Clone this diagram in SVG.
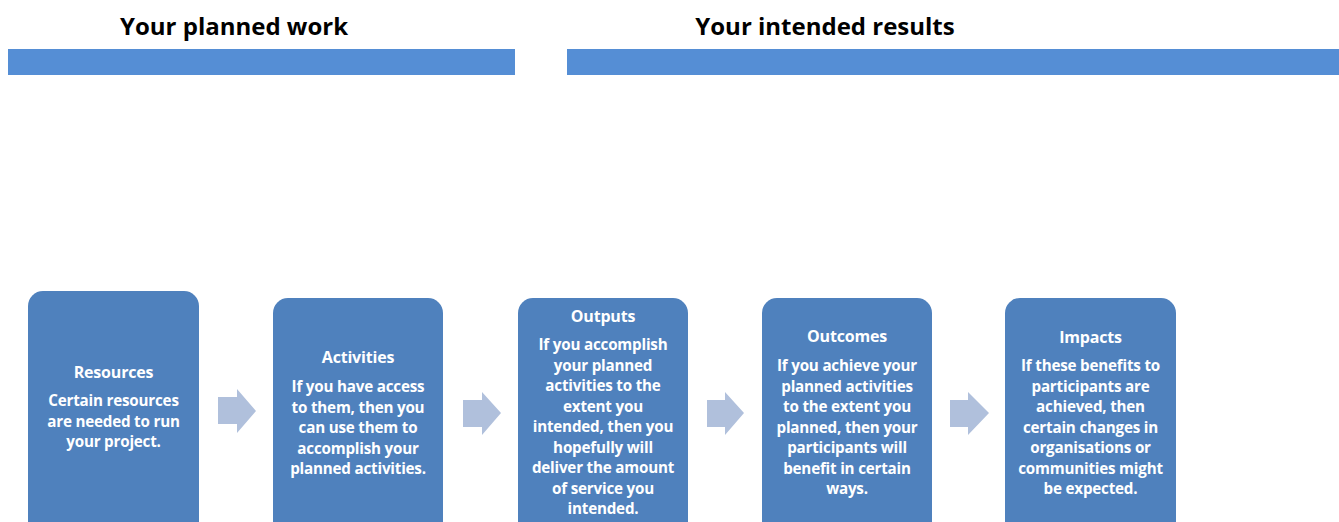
<svg xmlns="http://www.w3.org/2000/svg" width="1339" height="522" viewBox="0 0 1339 522">
<style>
.bar{fill:#558ed5}
.head{font-family:"Open Sans","Liberation Sans",sans-serif;font-weight:bold;font-size:24px;fill:#000;text-anchor:middle}
.box{fill:#4f81bd}
.t{font-family:"Open Sans","Liberation Sans",sans-serif;font-weight:bold;font-size:15.2px;fill:#fff;text-anchor:middle;letter-spacing:-0.2px}
.h{font-size:16px}
.arr{fill:#b0c0dc}
</style>
<rect width="1339" height="522" fill="#fff"/>
<g id="header-planned">
<text class="head" x="234" y="35">Your planned work</text>
<rect class="bar" x="8" y="49" width="507" height="26"/>
</g>
<g id="header-results">
<text class="head" x="825" y="35">Your intended results</text>
<rect class="bar" x="567" y="49" width="772" height="26"/>
</g>
<g id="connectors">
<polygon class="arr" points="218,397 237,397 237,389 256,411 237,433 237,424 218,424"/>
<polygon class="arr" points="463,400 482,400 482,392 501,413 482,435 482,427 463,427"/>
<polygon class="arr" points="707,400 725,400 725,392 744,413 725,435 725,427 707,427"/>
<polygon class="arr" points="950,400 968,400 968,392 989,413 968,435 968,427 950,427"/>
</g>
<g id="resources">
<rect class="box" x="28" y="291" width="171" height="250" rx="15"/>
<text class="t" x="113.5"><tspan class="h" x="113.5" y="378">Resources</tspan><tspan x="113.5" y="406">Certain resources</tspan><tspan x="113.5" y="426.5">are needed to run</tspan><tspan x="113.5" y="447">your project.</tspan></text>
</g>
<g id="activities">
<rect class="box" x="273" y="298" width="170" height="250" rx="15"/>
<text class="t" x="358"><tspan class="h" x="358" y="363">Activities</tspan><tspan x="358" y="392">If you have access</tspan><tspan x="358" y="412.5">to them, then you</tspan><tspan x="358" y="433">can use them to</tspan><tspan x="358" y="453.5">accomplish your</tspan><tspan x="358" y="474">planned activities.</tspan></text>
</g>
<g id="outputs">
<rect class="box" x="518" y="298" width="170" height="250" rx="15"/>
<text class="t" x="603"><tspan class="h" x="603" y="322">Outputs</tspan><tspan x="603" y="350">If you accomplish</tspan><tspan x="603" y="370.5">your planned</tspan><tspan x="603" y="391">activities to the</tspan><tspan x="603" y="411.5">extent you</tspan><tspan x="603" y="432">intended, then you</tspan><tspan x="603" y="452.5">hopefully will</tspan><tspan x="603" y="473">deliver the amount</tspan><tspan x="603" y="493.5">of service you</tspan><tspan x="603" y="514">intended.</tspan></text>
</g>
<g id="outcomes">
<rect class="box" x="762" y="298" width="170" height="250" rx="15"/>
<text class="t" x="847"><tspan class="h" x="847" y="342">Outcomes</tspan><tspan x="847" y="371">If you achieve your</tspan><tspan x="847" y="391.5">planned activities</tspan><tspan x="847" y="412">to the extent you</tspan><tspan x="847" y="432.5">planned, then your</tspan><tspan x="847" y="453">participants will</tspan><tspan x="847" y="473.5">benefit in certain</tspan><tspan x="847" y="494">ways.</tspan></text>
</g>
<g id="impacts">
<rect class="box" x="1005" y="298" width="171" height="250" rx="15"/>
<text class="t" x="1090.5"><tspan class="h" x="1090.5" y="343">Impacts</tspan><tspan x="1090.5" y="371">If these benefits to</tspan><tspan x="1090.5" y="391.5">participants are</tspan><tspan x="1090.5" y="412">achieved, then</tspan><tspan x="1090.5" y="432.5">certain changes in</tspan><tspan x="1090.5" y="453">organisations or</tspan><tspan x="1090.5" y="473.5">communities might</tspan><tspan x="1090.5" y="494">be expected.</tspan></text>
</g>
</svg>
